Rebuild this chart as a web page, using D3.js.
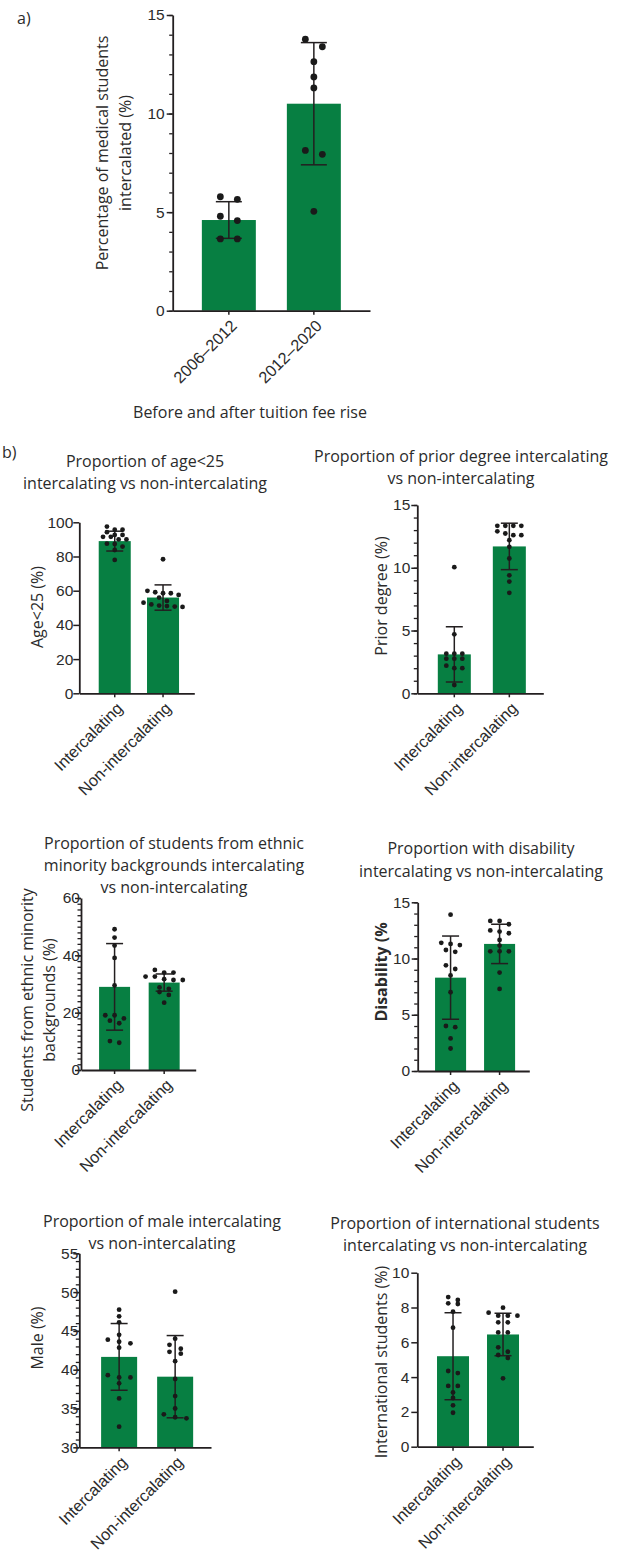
<!DOCTYPE html>
<html lang="en">
<head>
<meta charset="UTF-8">
<title>Intercalation before and after the tuition fee rise</title>
<script src="https://cdn.jsdelivr.net/npm/d3@7"></script>
<style>
  body { margin: 0; background: #fff; }
  svg { display: block; font-family: "Open Sans", sans-serif; }
</style>
</head>
<body>
<div id="chart"></div>
<script>
// ---- a) intercalation rate per year, before / after fee rise
const periods = ["2006–2012", "2012–2020"];
const pctMean = [4.6, 10.5];
const pctSd = [0.93, 3.1];
const pctPoints = [
  [5.78, 5.65, 4.79, 4.57, 3.64, 3.64],
  [13.77, 13.39, 12.63, 11.86, 11.3, 8.13, 7.93, 5.04]
];

// ---- b) intercalating vs non-intercalating, one value per medical school
const groups = ["Intercalating", "Non-intercalating"];

const ageMean = [89, 56];
const ageSd = [5.8, 7.4];
const agePoints = [
  [97.5, 95.7, 95.7, 94.2, 92.6, 92.6, 91.5, 91.5, 90, 90, 87.5, 87.3, 85.8, 83.8, 78],
  [78.4, 59.9, 59.1, 58.5, 58.5, 57.5, 56, 54, 53, 52, 51.3, 51, 50.7, 50.5]
];

const priorMean = [3.1, 11.7];
const priorSd = [2.2, 1.85];
const priorPoints = [
  [10.05, 4.7, 3.16, 3.16, 3.16, 2.76, 2.76, 2.76, 2.2, 2.0, 2.0, 0.66],
  [13.34, 13.34, 13.34, 13.34, 12.9, 12.73, 12.6, 12.6, 12.2, 11.67, 10.74, 9.4, 8.9, 8.0]
];

const ethnicMean = [29, 30.5];
const ethnicSd = [15.1, 3.0];
const ethnicPoints = [
  [49.1, 46.2, 43.4, 39.1, 29.5, 19.1, 19.1, 18, 17.2, 16.3, 10.1, 9.5],
  [34.9, 34, 34, 32.6, 32.6, 31.7, 31.4, 31.4, 28.8, 28.3, 27.2, 26.2, 23.5]
];

const disabMean = [8.3, 11.3];
const disabSd = [3.7, 1.75];
const disabPoints = [
  [13.9, 11.4, 11.3, 11.2, 10.76, 10.6, 9.4, 9.07, 8.5, 7.0, 4.0, 3.9, 2.9, 2.0],
  [13.34, 13.34, 13.05, 12.5, 12.4, 12.25, 11.65, 11.15, 10.64, 10.64, 10.64, 8.75, 7.3]
];

const maleMean = [41.65, 39.1];
const maleSd = [4.3, 5.3];
const malePoints = [
  [47.74, 46.88, 46.1, 44.5, 43.87, 43.6, 43.4, 42.84, 39.3, 39.0, 39.0, 38.25, 36.3, 32.66],
  [50.06, 44.0, 43.2, 42.7, 42.3, 42.06, 41.1, 38.8, 36.6, 35.0, 34.25, 33.87, 33.74]
];

const intlMean = [5.2, 6.45];
const intlSd = [2.5, 1.22];
const intlPoints = [
  [8.6, 8.43, 8.24, 8.2, 7.76, 6.84, 4.35, 4.23, 3.49, 3.49, 3.12, 2.8, 2.38, 1.95],
  [7.99, 7.7, 7.53, 7.53, 7.53, 7.15, 7.15, 6.57, 6.57, 5.71, 5.46, 5.27, 5.1, 3.93]
];

const GREEN = "#077f42";
const INK = "#231f20";
const TEXT = "#2b2b2b";

const svg = d3.select("#chart").append("svg")
  .attr("width", 626)
  .attr("height", 1561);

// prism-like scatter: bin points into rows, spread each row symmetrically
function swarm(values, y, cx, step, rowH) {
  const rows = [];
  values.slice().sort((a, b) => b - a).forEach(v => {
    const py = y(v);
    const last = rows[rows.length - 1];
    if (last && py - last.y0 < rowH) last.items.push(py);
    else rows.push({ y0: py, items: [py] });
  });
  return rows.flatMap(r => r.items.map((py, i) => ({
    x: cx + (i - (r.items.length - 1) / 2) * step,
    y: py
  })));
}

function drawPanel(p) {
  const g = svg.append("g");
  const y = d3.scaleLinear().domain(p.domain).range([p.bottom, p.top]);
  const x = d3.scaleBand().domain(p.cats)
    .range([p.left, p.right])
    .paddingInner(p.pi).paddingOuter(p.po).align(p.align);
  const bw = x.bandwidth();

  // bars
  g.selectAll("rect.bar")
    .data(p.means)
    .join("rect")
    .attr("class", "bar")
    .attr("x", (d, i) => x(p.cats[i]))
    .attr("y", d => y(d))
    .attr("width", bw)
    .attr("height", d => y(p.domain[0]) - y(d))
    .attr("fill", GREEN);

  // error bars (mean ± SD)
  const err = g.selectAll("g.err")
    .data(p.means.map((m, i) => ({ cat: p.cats[i], lo: m - p.sds[i], hi: m + p.sds[i] })))
    .join("g")
    .attr("class", "err")
    .attr("stroke", INK)
    .attr("stroke-width", 1.5);
  err.append("line")
    .attr("x1", d => x(d.cat) + bw / 2).attr("x2", d => x(d.cat) + bw / 2)
    .attr("y1", d => y(d.lo)).attr("y2", d => y(d.hi));
  ["lo", "hi"].forEach(k => {
    err.append("line")
      .attr("x1", d => x(d.cat) + bw / 2 - p.cap / 2)
      .attr("x2", d => x(d.cat) + bw / 2 + p.cap / 2)
      .attr("y1", d => y(d[k])).attr("y2", d => y(d[k]));
  });

  // individual school values
  p.points.forEach((vals, i) => {
    const cx = x(p.cats[i]) + bw / 2;
    g.append("g").selectAll("circle")
      .data(swarm(vals, y, cx, p.step, p.rowH))
      .join("circle")
      .attr("cx", d => d.x)
      .attr("cy", d => d.y)
      .attr("r", p.r)
      .attr("fill", "#1a1a1a");
  });

  // y axis: minor ticks, then major ticks with labels
  const [lo, hi] = p.domain;
  if (p.minor) {
    g.append("g")
      .attr("transform", `translate(${p.left},0)`)
      .call(d3.axisLeft(y).tickValues(d3.range(lo, hi + 1e-9, p.minor)).tickSize(3.5).tickFormat(""))
      .call(a => a.select(".domain").remove())
      .selectAll("line").attr("stroke", INK).attr("stroke-width", 1.3);
  }
  const yAxis = g.append("g")
    .attr("transform", `translate(${p.left},0)`)
    .call(d3.axisLeft(y).tickValues(d3.range(lo, hi + 1e-9, p.major)).tickSize(6).tickSizeOuter(0));
  yAxis.select(".domain").attr("stroke", INK).attr("stroke-width", 1.8);
  yAxis.selectAll(".tick line").attr("stroke", INK).attr("stroke-width", 1.5);
  yAxis.selectAll(".tick text")
    .attr("x", p.labelX)
    .attr("fill", TEXT)
    .style("font-size", "15.5px");

  // x axis with rotated category labels
  const xAxis = g.append("g")
    .attr("transform", `translate(0,${p.bottom})`)
    .call(d3.axisBottom(x).tickSize(4).tickSizeOuter(0));
  xAxis.select(".domain").attr("stroke", INK).attr("stroke-width", 1.8);
  xAxis.selectAll(".tick line").attr("stroke", INK).attr("stroke-width", 1.5);
  xAxis.selectAll(".tick text")
    .attr("x", 0).attr("y", 0).attr("dy", "0.35em")
    .attr("transform", "translate(5,12) rotate(-45)")
    .style("text-anchor", "end")
    .style("font-size", "16.3px")
    .attr("fill", TEXT);

  // y title (one or more rotated lines)
  p.ylab.forEach((line, i) => {
    g.append("text")
      .attr("transform", `translate(${p.ylabX[i]},${p.ylabY}) rotate(-90)`)
      .attr("text-anchor", "middle")
      .attr("fill", TEXT)
      .style("font-size", "16px")
      .style("font-weight", p.ylabBold ? "bold" : "normal")
      .text(line);
  });

  // panel title
  (p.title || []).forEach((line, i) => {
    g.append("text")
      .attr("x", p.titleX)
      .attr("y", p.titleY + i * 22.2)
      .attr("text-anchor", "middle")
      .attr("fill", TEXT)
      .style("font-size", "16px")
      .text(line);
  });
}

// a)
drawPanel({
  cats: periods, means: pctMean, sds: pctSd, points: pctPoints,
  domain: [0, 15], major: 5, minor: 1,
  left: 172.7, right: 370, top: 15, bottom: 310.7,
  pi: 0.365, po: 0.343, align: 0.5,
  cap: 26, r: 3.4, step: 17, rowH: 8, labelX: -8,
  ylab: ["Percentage of medical students", "intercalated (%)"], ylabX: [108, 131], ylabY: 153
});
svg.append("text")
  .attr("x", 250).attr("y", 418)
  .attr("text-anchor", "middle").attr("fill", TEXT)
  .style("font-size", "16px")
  .text("Before and after tuition fee rise");

// b)
drawPanel({
  cats: groups, means: ageMean, sds: ageSd, points: agePoints,
  domain: [0, 100], major: 20, minor: 0,
  left: 79.3, right: 194.3, top: 522.3, bottom: 693.3,
  pi: 0.337, po: 0.359, align: 0.56,
  cap: 17, r: 2.4, step: 7.8, rowH: 4.5, labelX: -6,
  ylab: ["Age<25 (%)"], ylabX: [43], ylabY: 607,
  title: ["Proportion of age<25", "intercalating vs non-intercalating"], titleX: 145, titleY: 466.5
});

drawPanel({
  cats: groups, means: priorMean, sds: priorSd, points: priorPoints,
  domain: [0, 15], major: 5, minor: 1,
  left: 417.3, right: 543.3, top: 505, bottom: 693.3,
  pi: 0.4, po: 0.345, align: 0.54,
  cap: 17, r: 2.4, step: 8, rowH: 4.5, labelX: -7,
  ylab: ["Prior degree (%)"], ylabX: [387], ylabY: 596,
  title: ["Proportion of prior degree intercalating", "vs non-intercalating"], titleX: 461, titleY: 461.7
});

drawPanel({
  cats: groups, means: ethnicMean, sds: ethnicSd, points: ethnicPoints,
  domain: [0, 60], major: 20, minor: 2,
  left: 81, right: 195.7, top: 898, bottom: 1070,
  pi: 0.375, po: 0.344, align: 0.53,
  cap: 17, r: 2.4, step: 9.3, rowH: 4.5, labelX: -1,
  ylab: ["Students from ethnic minority", "backgrounds (%)"], ylabX: [32.5, 55], ylabY: 1000,
  title: ["Proportion of students from ethnic", "minority backgrounds intercalating", "vs non-intercalating"], titleX: 174, titleY: 849
});

drawPanel({
  cats: groups, means: disabMean, sds: disabSd, points: disabPoints,
  domain: [0, 15], major: 5, minor: 1,
  left: 417.7, right: 529.3, top: 902.3, bottom: 1071,
  pi: 0.367, po: 0.322, align: 0.55,
  cap: 17, r: 2.4, step: 9.3, rowH: 4.5, labelX: -7.5,
  ylab: ["Disability (%"], ylabX: [387], ylabY: 972, ylabBold: true,
  title: ["Proportion with disability", "intercalating vs non-intercalating"], titleX: 481, titleY: 854.3
});

drawPanel({
  cats: groups, means: maleMean, sds: maleSd, points: malePoints,
  domain: [30, 55], major: 5, minor: 1,
  left: 79.3, right: 211, top: 1253.3, bottom: 1447.3,
  pi: 0.357, po: 0.354, align: 0.55,
  cap: 17, r: 2.4, step: 11.3, rowH: 4.5, labelX: -1,
  ylab: ["Male (%)"], ylabX: [43], ylabY: 1338,
  title: ["Proportion of male intercalating", "vs non-intercalating"], titleX: 162, titleY: 1226.7
});

drawPanel({
  cats: groups, means: intlMean, sds: intlSd, points: intlPoints,
  domain: [0, 10], major: 2, minor: 0,
  left: 417.3, right: 533.3, top: 1272.7, bottom: 1446.7,
  pi: 0.36, po: 0.34, align: 0.58,
  cap: 17, r: 2.4, step: 9.6, rowH: 4.5, labelX: -8,
  ylab: ["International students (%)"], ylabX: [387], ylabY: 1362,
  title: ["Proportion of international students", "intercalating vs non-intercalating"], titleX: 465, titleY: 1229
});

// panel letters
svg.append("text").attr("x", 17).attr("y", 24).attr("fill", TEXT).style("font-size", "16px").text("a)");
svg.append("text").attr("x", 2).attr("y", 458).attr("fill", TEXT).style("font-size", "16px").text("b)");
</script>
</body>
</html>
